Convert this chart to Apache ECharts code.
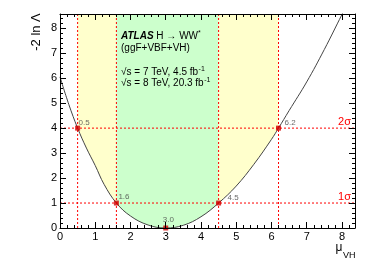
<!DOCTYPE html>
<html><head><meta charset="utf-8">
<script src="https://cdn.jsdelivr.net/npm/echarts@6/dist/echarts.min.js"></script>
<style>html,body{margin:0;padding:0;background:#fff}#c{width:374px;height:272px}</style>
</head><body><div id="c"></div><script>
// ---- data ----
const muValues  = [0, 0.25, 0.5, 0.75, 1.0, 1.25, 1.6, 2.0, 2.5, 3.0, 3.5, 4.0, 4.5, 5.0, 5.5, 6.0, 6.2, 6.5, 7.0, 7.5, 8.0, 8.2];
const nllValues = [6.05, 4.95, 4.0, 3.2, 2.5, 1.75, 1.0, 0.48, 0.12, 0.0, 0.11, 0.45, 1.0, 1.68, 2.55, 3.55, 4.0, 4.7, 5.85, 7.15, 8.55, 9.1];
const sigmaLevels = [1, 4];
const sigmaNames = ['1σ', '2σ'];
const intervalEdges = [0.5, 1.6, 4.5, 6.2];
const pointMu  = [0.5, 1.6, 3.0, 4.5, 6.2];
const pointNll = [4, 1, 0, 1, 4];
const pointLabels = ['0.5', '1.6', '3.0', '4.5', '6.2'];
const xTickLabels = ['0','1','2','3','4','5','6','7','8'];
const yTickLabels = ['0','1','2','3','4','5','6','7','8'];

const XMAX = 8.37, YMAX = 8.57;
const FONT = '"Liberation Sans", Arial, sans-serif';
const GRID = {left: 60, right: 19, top: 14, bottom: 44};
const RED = '#ff0000';

const chart = echarts.init(document.getElementById('c'), null, {renderer: 'canvas'});

const curve = muValues.map((m, i) => [m, nllValues[i]]);
const labelOffsets = [[1, -5.5], [2, -6], [-3, -8], [9, -5], [6, -5]];
const points = pointMu.map((m, i) => ({
  value: [m, pointNll[i]],
  label: {show: true, formatter: pointLabels[i], position: 'inside', align: 'left',
          verticalAlign: 'middle', offset: labelOffsets[i], color: '#444', fontSize: 8, fontFamily: FONT}
}));

function baseAxis(extra) {
  return Object.assign({
    type: 'value', min: 0, interval: 1, z: 20,
    axisLine: {show: true, onZero: false, lineStyle: {color: '#000', width: 1}},
    axisTick: {show: true, inside: true, length: 6, lineStyle: {color: '#000'}},
    minorTick: {show: true, splitNumber: 5, length: 3, lineStyle: {color: '#000'}},
    splitLine: {show: false}, minorSplitLine: {show: false}
  }, extra);
}

const dotted = {color: RED, type: [2, 2], width: 1};
const vLines = intervalEdges.map(e => ({
  type: 'line', z: 5, silent: true, symbol: 'none', data: [[e, 0], [e, YMAX]], lineStyle: dotted
}));
const hLines = sigmaLevels.map((s, i) => ({
  type: 'line', z: 5, silent: true, symbol: 'none', data: [[0, s], [XMAX, s]], lineStyle: dotted,
  endLabel: {show: true, formatter: sigmaNames[i], color: RED, fontSize: 11, fontFamily: FONT,
             align: 'right', verticalAlign: 'bottom', offset: [-12, -1]}
}));

const option = {
  animation: false,
  grid: Object.assign({containLabel: false}, GRID),
  xAxis: [
    baseAxis({max: XMAX, position: 'bottom',
      axisLabel: {show: true, showMaxLabel: false, margin: 3, color: '#000', fontSize: 11, fontFamily: FONT,
        formatter: v => (Number.isInteger(v) ? xTickLabels[v] : '')}}),
    baseAxis({max: XMAX, position: 'top', axisLabel: {show: false}})
  ],
  yAxis: [
    baseAxis({max: YMAX, position: 'left',
      axisLabel: {show: true, showMaxLabel: false, margin: 3, color: '#000', fontSize: 11, fontFamily: FONT,
        formatter: v => (Number.isInteger(v) ? yTickLabels[v] : '')}}),
    baseAxis({max: YMAX, position: 'right', axisLabel: {show: false}})
  ],
  series: [
    {
      type: 'line', z: 1, data: [[0, 0]], symbol: 'none', lineStyle: {opacity: 0}, silent: true,
      markArea: {silent: true, data: [
        [{xAxis: intervalEdges[0], itemStyle: {color: '#ffffcc'}}, {xAxis: intervalEdges[1]}],
        [{xAxis: intervalEdges[1], itemStyle: {color: '#ccffcc'}}, {xAxis: intervalEdges[2]}],
        [{xAxis: intervalEdges[2], itemStyle: {color: '#ffffcc'}}, {xAxis: intervalEdges[3]}]
      ]}
    },
    {
      type: 'line', z: 3, data: curve, smooth: 0.4, symbol: 'none',
      lineStyle: {color: '#444', width: 1},
      areaStyle: {color: '#ffffff', opacity: 1}
    }
  ].concat(vLines, hLines, [
    {
      type: 'scatter', z: 6, clip: false, symbol: 'rect', symbolSize: 5,
      itemStyle: {color: '#d00000'}, data: points
    }
  ]),
  graphic: [
    {type: 'text', z: 100, x: 36, y: 32, rotation: Math.PI / 2,
      style: {text: '-2 ln Λ', fill: '#000', font: '13px ' + FONT, align: 'center', verticalAlign: 'middle'}},
    {type: 'text', z: 100, x: 339, y: 248, style: {text: 'μ', fill: '#000', font: '12px ' + FONT, align: 'center', verticalAlign: 'middle'}},
    {type: 'text', z: 100, x: 343, y: 256, style: {text: 'VH', fill: '#000', font: '9px ' + FONT, align: 'left', verticalAlign: 'middle'}}
  ]
};

// text block (ATLAS label)
const cv = document.createElement('canvas').getContext('2d');
function tw(str, font) { cv.font = font; return cv.measureText(str).width; }
const fBI = 'italic bold 10px ' + FONT, fN = '10px ' + FONT, fS = '7px ' + FONT;
const tx = 121;
const line1a = 'ATLAS', line1b = ' H → WW', line1c = '*';
const l1bx = tx + tw(line1a, fBI);
const l1cx = l1bx + tw(line1b, fN);
const line3 = '√s = 7 TeV, 4.5 fb', line4 = '√s = 8 TeV, 20.3 fb';
option.graphic.push(
  {type: 'text', z: 100, x: tx, y: 36, style: {text: line1a, font: fBI, fill: '#000', verticalAlign: 'middle'}},
  {type: 'text', z: 100, x: l1bx, y: 36, style: {text: line1b, font: fN, fill: '#000', verticalAlign: 'middle'}},
  {type: 'text', z: 100, x: l1cx, y: 33, style: {text: line1c, font: fS, fill: '#000', verticalAlign: 'middle'}},
  {type: 'text', z: 100, x: tx, y: 48, style: {text: '(ggF+VBF+VH)', font: fN, fill: '#000', verticalAlign: 'middle'}},
  {type: 'text', z: 100, x: tx, y: 72, style: {text: line3, font: fN, fill: '#000', verticalAlign: 'middle'}},
  {type: 'text', z: 100, x: tx + tw(line3, fN) + 0.5, y: 69, style: {text: '-1', font: fS, fill: '#000', verticalAlign: 'middle'}},
  {type: 'text', z: 100, x: tx, y: 83, style: {text: line4, font: fN, fill: '#000', verticalAlign: 'middle'}},
  {type: 'text', z: 100, x: tx + tw(line4, fN) + 0.5, y: 80, style: {text: '-1', font: fS, fill: '#000', verticalAlign: 'middle'}}
);

chart.setOption(option);
</script></body></html>
